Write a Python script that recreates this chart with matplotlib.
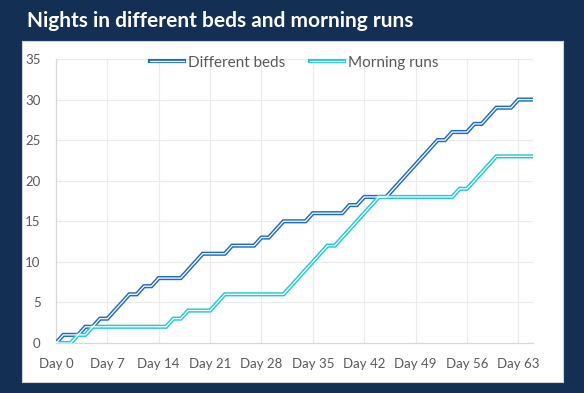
import matplotlib
matplotlib.use("Agg")
import matplotlib.pyplot as plt
from matplotlib.lines import Line2D
from matplotlib.legend_handler import HandlerTuple

days = list(range(66))
different_beds = [0, 1, 1, 1, 2, 2, 3, 3, 4, 5,
                  6, 6, 7, 7, 8, 8, 8, 8, 9, 10,
                  11, 11, 11, 11, 12, 12, 12, 12, 13, 13,
                  14, 15, 15, 15, 15, 16, 16, 16, 16, 16,
                  17, 17, 18, 18, 18, 18, 19, 20, 21, 22,
                  23, 24, 25, 25, 26, 26, 26, 27, 27, 28,
                  29, 29, 29, 30, 30, 30]
morning_runs = [0, 0, 0, 1, 1, 2, 2, 2, 2, 2,
                2, 2, 2, 2, 2, 2, 3, 3, 4, 4,
                4, 4, 5, 6, 6, 6, 6, 6, 6, 6,
                6, 6, 7, 8, 9, 10, 11, 12, 12, 13,
                14, 15, 16, 17, 18, 18, 18, 18, 18, 18,
                18, 18, 18, 18, 18, 19, 19, 20, 21, 22,
                23, 23, 23, 23, 23, 23]
tick_days = [0, 7, 14, 21, 28, 35, 42, 49, 56, 63]
tick_labels = ["Day %d" % d for d in tick_days]
series_names = ["Different beds", "Morning runs"]
colors = ["#1f6cc6", "#1fcbd6"]

navy = "#132f54"
fig = plt.figure(figsize=(5.84, 3.93), dpi=100, facecolor=navy)

# white chart panel
pax = fig.add_axes([22 / 584, 11 / 393, (563 - 22) / 584, (382 - 41) / 393], zorder=0)
pax.set_facecolor("white")
pax.set_xticks([])
pax.set_yticks([])
for s in pax.spines.values():
    s.set_color("#d0d0d0")
    s.set_linewidth(0.8)

fig.text(27 / 584, 1 - 21 / 393, "Nights in different beds and morning runs",
         color="white", fontsize=15, fontweight="bold", family="Lato",
         va="center", ha="left")

ax = fig.add_axes([56 / 584, 50 / 393, (533 - 56) / 584, (343 - 59) / 393], zorder=1)
ax.set_facecolor("white")
ax.set_xlim(0, 65)
ax.set_ylim(0, 35)

handles = []
for name, vals, c in zip(series_names, [different_beds, morning_runs], colors):
    ax.plot(days, vals, color=c, lw=3.0, solid_joinstyle="miter", zorder=3)
    ax.plot(days, vals, color="white", lw=0.9, solid_joinstyle="miter", zorder=4)
    h = (Line2D([], [], color=c, lw=3.0), Line2D([], [], color="white", lw=0.9))
    handles.append(h)

ax.set_xticks(tick_days)
ax.set_xticklabels(tick_labels)
ax.set_yticks(range(0, 36, 5))
ax.tick_params(axis="both", length=0, labelsize=9.5, labelcolor="#595959")
for lab in ax.get_xticklabels() + ax.get_yticklabels():
    lab.set_family("Lato")
ax.tick_params(axis="y", pad=11)
ax.tick_params(axis="x", pad=11)

ax.grid(True, color="#ebebeb", lw=0.8)
ax.set_axisbelow(True)
for s in ["top", "right"]:
    ax.spines[s].set_visible(False)
for s in ["left", "bottom"]:
    ax.spines[s].set_color("#d9d9d9")
    ax.spines[s].set_linewidth(0.9)

leg = ax.legend(handles, series_names, handler_map={tuple: HandlerTuple(ndivide=1)},
                loc="upper center", bbox_to_anchor=(0.5, 1.06), ncol=2, frameon=False,
                prop={"family": "Lato", "size": 11}, labelcolor="#595959",
                handlelength=2.2, handletextpad=0.3, columnspacing=1.6)

fig.savefig("out.png", dpi=100, facecolor=navy)
